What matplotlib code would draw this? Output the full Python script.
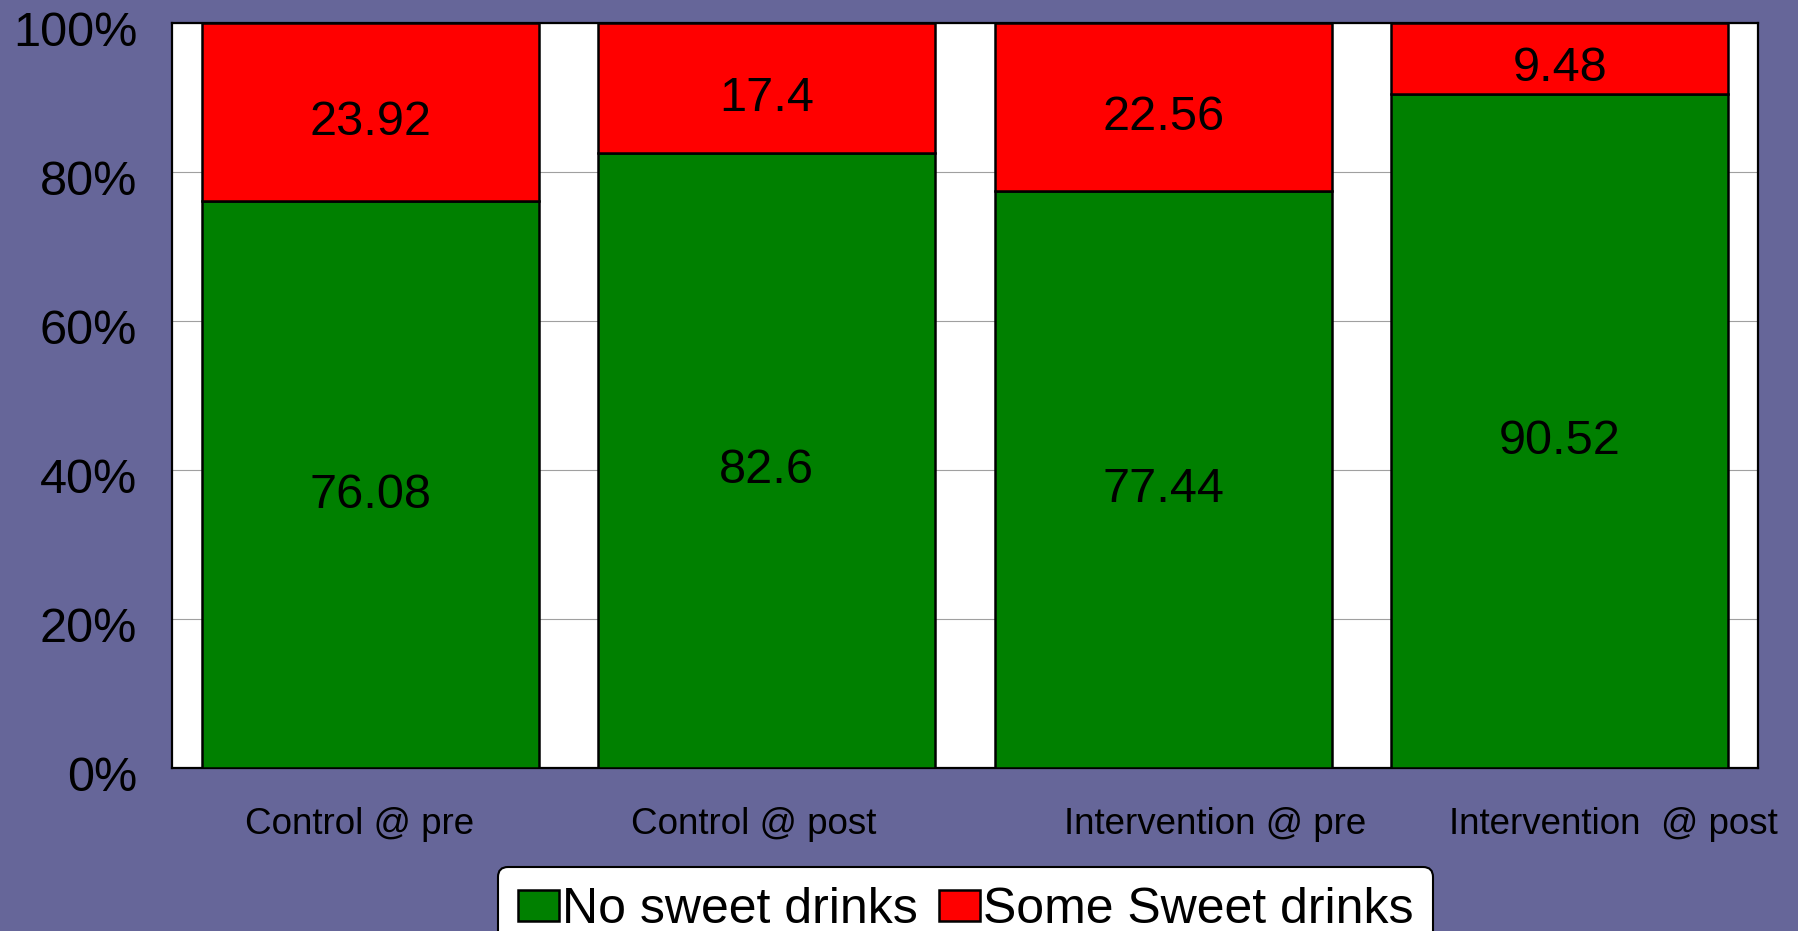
import matplotlib.pyplot as plt
import numpy as np
from matplotlib.transforms import ScaledTranslation

plt.rcParams['font.family'] = ['Liberation Sans', 'DejaVu Sans']

# ============================ DADOS ============================
grupos = ["Control @ pre", "Control @ post", "Intervention @ pre", "Intervention  @ post"]
sem_doce = [76.08, 82.6, 77.44, 90.52]
com_doce = [23.92, 17.4, 22.56, 9.48]
series = ["No sweet drinks", "Some Sweet drinks"]
yticks = [0, 20, 40, 60, 80, 100]

fundo = '#666699'
fig = plt.figure(figsize=(17.98, 9.31), dpi=100, facecolor=fundo)
ax = fig.add_axes([0.0957, 0.1751, 0.8821, 0.8002])
ax.set_facecolor('white')

x = np.arange(len(grupos))
largura = 0.85
ax.bar(x, sem_doce, largura, color='#008000', edgecolor='black', linewidth=1.8,
       label=series[0], zorder=3)
ax.bar(x, com_doce, largura, bottom=sem_doce, color='#ff0000', edgecolor='black',
       linewidth=1.8, label=series[1], zorder=3)

# rótulos dentro dos segmentos
for i in range(len(grupos)):
    ax.annotate(f"{sem_doce[i]:g}", (x[i], sem_doce[i] / 2), xytext=(0, -7.5),
                textcoords='offset points', ha='center', va='center', fontsize=35, zorder=4)
    ax.annotate(f"{com_doce[i]:g}", (x[i], sem_doce[i] + com_doce[i] / 2), xytext=(0, -7.5),
                textcoords='offset points', ha='center', va='center', fontsize=35, zorder=4)

ax.set_xlim(-0.5, len(grupos) - 0.5)
ax.set_ylim(0, 100)
ax.set_yticks(yticks)
ax.set_yticklabels([f"{v}%" for v in yticks], fontsize=35)
ax.set_xticks(x)
ax.set_xticklabels(grupos, fontsize=26.5)
ax.tick_params(axis='y', length=0, pad=25)
ax.tick_params(axis='x', length=0, pad=28)
ax.yaxis.grid(True, color='#a0a0a0', linewidth=0.8, zorder=0)
ax.set_axisbelow(True)
for s in ax.spines.values():
    s.set_linewidth(1.6)
    s.set_color('black')

# ajustes finos de posição dos rótulos
for lab in ax.get_yticklabels():
    lab.set_transform(lab.get_transform() + ScaledTranslation(0, -0.06, fig.dpi_scale_trans))
desloc = [-11, -13, 52, 54]
for lab, d in zip(ax.get_xticklabels(), desloc):
    lab.set_transform(lab.get_transform() + ScaledTranslation(d / 100, 0, fig.dpi_scale_trans))

leg = fig.legend(loc='upper center', bbox_to_anchor=(0.537, 0.0687), ncol=2, fontsize=36,
                 frameon=True, fancybox=True, edgecolor='black', facecolor='white', framealpha=1,
                 handlelength=0.82, handleheight=0.56, handletextpad=0.06, columnspacing=0.42,
                 borderpad=0.4, borderaxespad=0)
leg.get_frame().set_linewidth(1.5)

fig.savefig('out.png', dpi=100, facecolor=fundo)
